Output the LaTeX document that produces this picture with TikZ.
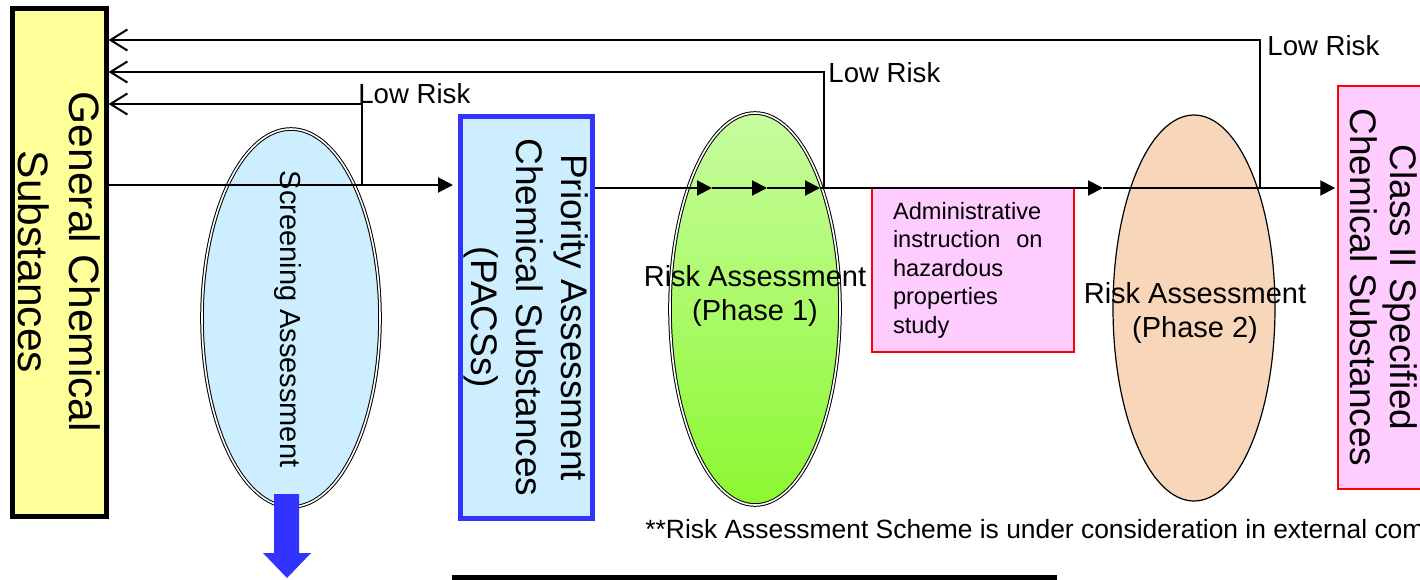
\documentclass[tikz,border=0pt]{standalone}
\usepackage{fontspec}
\setmainfont{Liberation Sans}
\usetikzlibrary{arrows.meta,shapes.geometric,positioning}
\definecolor{canary}{RGB}{255, 255, 153}
\definecolor{skyfill}{RGB}{204, 238, 255}
\definecolor{blueberry}{RGB}{51, 51, 255}
\definecolor{mintgreen}{RGB}{200, 252, 160}
\definecolor{limegreen}{RGB}{140, 248, 48}
\definecolor{apricot}{RGB}{248, 214, 186}
\definecolor{candypink}{RGB}{255, 204, 255}

\begin{document}
\begin{tikzpicture}[x=0.5pt, y=-0.5pt,
    line/.style={line width=1pt},
    flow/.style={line, -{Triangle[length=7.5pt, width=7.5pt]}},
    back/.style={line, -{Straight Barb[length=8.5pt, width=10.5pt]}},
    lowrisk/.style={anchor=base west, inner sep=0pt, font=\fontsize{13.8}{16}\selectfont},
    upright/.style={rotate=-90, align=center, inner sep=0pt},
    oval/.style={ellipse, inner sep=0pt},
    ovaltext/.style={align=center, inner sep=0pt, font=\fontsize{14.5}{17}\selectfont}]
  \useasboundingbox (0,0) rectangle (1420,579);
  \clip (0,0) rectangle (1420,579);

  % boxes
  \node[upright, draw=black, fill=canary, line width=2.5pt, minimum width=254pt, minimum height=47pt,
        font=\fontsize{21.25}{25.5}\selectfont] (gen) at (59,262) {General Chemical\\Substances};
  \node[upright, draw=blueberry, fill=skyfill, line width=2.5pt, minimum width=201pt, minimum height=66pt,
        font=\fontsize{18.5}{22.5}\selectfont] (pacs) at (526.5,317.5) {Priority Assessment\\Chemical Substances\\(PACSs)};
  \node[upright, draw=red, fill=candypink, line width=0.75pt, minimum width=201.5pt, minimum height=46pt,
        font=\fontsize{18.5}{20}\selectfont] (cls) at (1384,287.5) {Class II Specified\\Chemical Substances};
  \node[draw=red, fill=candypink, line width=0.75pt, minimum width=101pt, minimum height=82pt,
        text width=80pt, inner xsep=10.5pt, align=left,
        font=\fontsize{11.8}{14.25}\selectfont] (admin) at (973,270) {Administrative\\instruction\ \ on\\hazardous\\properties\\study};

  % assessments
  \node[oval, draw, double=white, double distance=0.8pt, line width=0.5pt, fill=skyfill,
        minimum width=89pt, minimum height=189pt] (scr) at (291,318) {};
  \node[oval, draw, double=white, double distance=0.8pt, line width=0.5pt,
        top color=mintgreen, middle color=mintgreen!85!limegreen, bottom color=limegreen,
        minimum width=85pt, minimum height=196pt] (ra1) at (755,309) {};
  \node[oval, draw, line width=0.6pt, fill=apricot, minimum width=81pt, minimum height=193pt] (ra2) at (1194,308) {};
  \node[upright, font=\fontsize{14.5}{17}\selectfont] (scrtext) at (288,319) {Screening Assessment};
  \node[ovaltext] (ra1text) at (755,296) {Risk Assessment\\(Phase 1)};
  \node[ovaltext] (ra2text) at (1195,313) {Risk Assessment\\(Phase 2)};

  \fill[blueberry] (274,494) -- (299,494) -- (299,553) -- (311,553) -- (287,578) -- (263,553) -- (274,553) -- cycle;

  % main flow
  \coordinate (k1) at (362,185);
  \coordinate (k2) at (824,188);
  \coordinate (k3) at (1260,188);
  \foreach \n/\x in {1/712, 2/767, 3/820, 4/1103} {
    \coordinate (t\n) at (\x,188);
  }
  \draw[flow, shorten >=2.5pt] (gen.north |- k1) -- (pacs.south |- k1);
  \draw[flow] (pacs.north |- t1) -- (t1);
  \draw[flow] (t1) -- (t2);
  \draw[flow] (t2) -- (t3);
  \draw[flow] (t3) -- (t4);
  \draw[flow, shorten >=1pt] (t4) -- (cls.south |- t4);

  % low risk returns
  \coordinate (h1) at (362,104);
  \coordinate (h2) at (824,72);
  \coordinate (h3) at (1260,40);
  \draw[back] (k1) -- (h1) -- (gen.north |- h1);
  \draw[back] (k2) -- (h2) -- (gen.north |- h2);
  \draw[back] (k3) -- (h3) -- (gen.north |- h3);
  \node[lowrisk] (low1) at (358,103) {Low Risk};
  \node[lowrisk] (low2) at (828,82) {Low Risk};
  \node[lowrisk] (low3) at (1267,55) {Low Risk};

  \node[anchor=base west, inner sep=0pt, font=\fontsize{13.2}{16}\selectfont] (note) at (645,538)
    {**Risk Assessment Scheme is under consideration in external com};
  \coordinate (u1) at (452,577.5);
  \coordinate (u2) at (1057,577.5);
  \draw[line width=2.5pt] (u1) -- (u2);
\end{tikzpicture}
\end{document}
